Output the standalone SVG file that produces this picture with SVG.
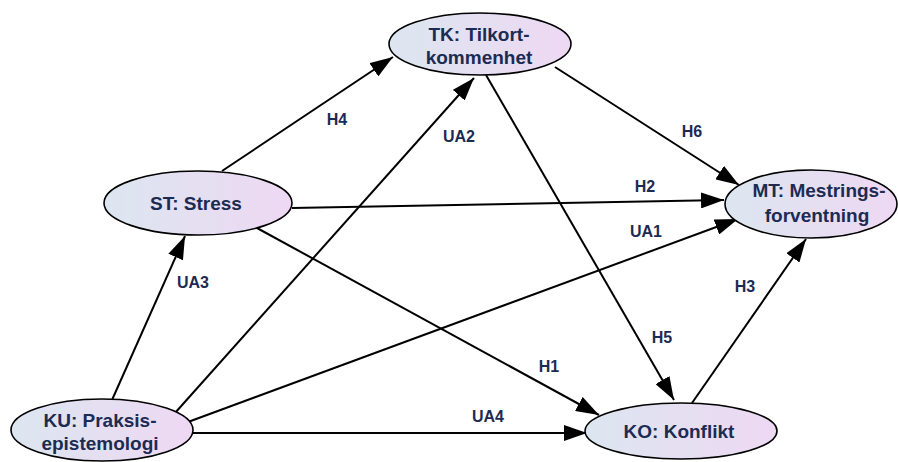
<svg xmlns="http://www.w3.org/2000/svg" width="898" height="462" viewBox="0 0 898 462">
<style>
.node{fill:url(#g);stroke:#000;stroke-width:1.6}
.nt{font-family:"Liberation Sans",Arial,sans-serif;font-weight:bold;font-size:19px;fill:#1c2b52;text-anchor:middle}
.lb{font-family:"Liberation Sans",Arial,sans-serif;font-weight:bold;font-size:16px;fill:#1c2b52;text-anchor:middle}
.e{stroke:#000;stroke-width:2;fill:none;marker-end:url(#a)}
</style>
<defs>
<linearGradient id="g" x1="0" y1="0" x2="1" y2="0">
<stop offset="0" stop-color="#dce6f0"/>
<stop offset="1" stop-color="#eed8f3"/>
</linearGradient>
<marker id="a" markerUnits="userSpaceOnUse" markerWidth="24" markerHeight="16" refX="23" refY="8" orient="auto">
<path d="M0,0 L23,8 L0,16 z" fill="#000"/>
</marker>
</defs>
<rect width="898" height="462" fill="#fff"/>
<g id="connectors">
<line class="e" x1="222" y1="171" x2="393" y2="57"/>
<line class="e" x1="175" y1="413" x2="474" y2="78"/>
<line class="e" x1="486" y1="75" x2="674" y2="400"/>
<line class="e" x1="555" y1="67" x2="739" y2="185"/>
<line class="e" x1="292" y1="208" x2="724" y2="200"/>
<line class="e" x1="188" y1="422" x2="738" y2="219"/>
<line class="e" x1="257" y1="228" x2="599" y2="415"/>
<line class="e" x1="112" y1="400" x2="185" y2="236"/>
<line class="e" x1="192" y1="433" x2="587" y2="433"/>
<line class="e" x1="692" y1="403" x2="806" y2="239"/>
<text class="lb" x="337" y="125">H4</text>
<text class="lb" x="459" y="142">UA2</text>
<text class="lb" x="692" y="137">H6</text>
<text class="lb" x="645" y="192">H2</text>
<text class="lb" x="646" y="237">UA1</text>
<text class="lb" x="193" y="288">UA3</text>
<text class="lb" x="745" y="292">H3</text>
<text class="lb" x="662" y="343">H5</text>
<text class="lb" x="549" y="372">H1</text>
<text class="lb" x="488" y="422">UA4</text>
</g>
<g id="TK">
<ellipse class="node" cx="480" cy="44" rx="91" ry="31"/>
<text class="nt" x="479" y="41">TK: Tilkort-</text>
<text class="nt" x="479" y="64">kommenhet</text>
</g>
<g id="ST">
<ellipse class="node" cx="198" cy="203" rx="94" ry="32"/>
<text class="nt" x="196" y="210">ST: Stress</text>
</g>
<g id="MT">
<ellipse class="node" cx="811" cy="204" rx="86" ry="34"/>
<text class="nt" x="819" y="197">MT: Mestrings-</text>
<text class="nt" x="817" y="222">forventning</text>
</g>
<g id="KU">
<ellipse class="node" cx="102" cy="430" rx="91" ry="31"/>
<text class="nt" x="100" y="427">KU: Praksis-</text>
<text class="nt" x="100" y="450">epistemologi</text>
</g>
<g id="KO">
<ellipse class="node" cx="681" cy="431" rx="96" ry="28"/>
<text class="nt" x="679" y="438">KO: Konflikt</text>
</g>
</svg>
